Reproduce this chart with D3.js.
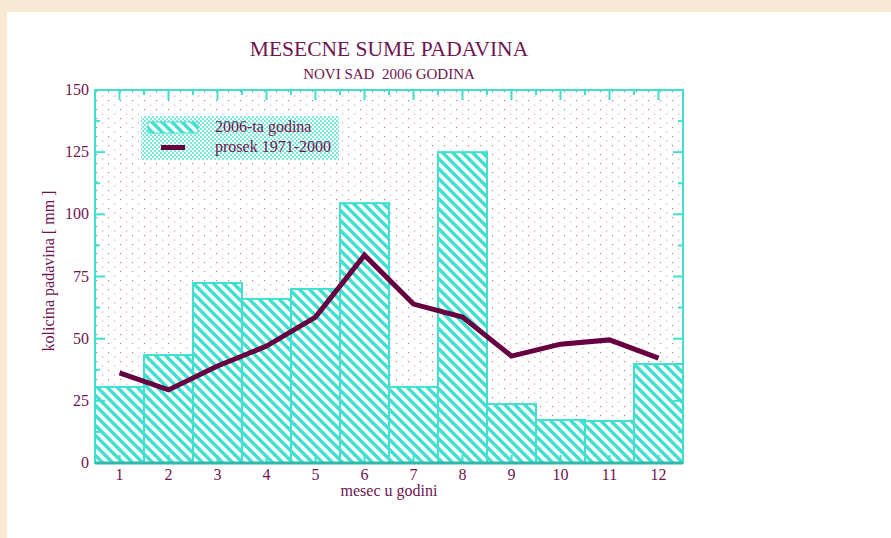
<!DOCTYPE html>
<html>
<head>
<meta charset="utf-8">
<script src="https://cdn.jsdelivr.net/npm/d3@7/dist/d3.min.js"></script>
<style>
body { margin: 0; background: #f9ead6; }
svg { display: block; }
</style>
</head>
<body>
<svg width="891" height="538"></svg>
<script>
const months = ["1","2","3","4","5","6","7","8","9","10","11","12"];
const rain2006 = [30.6, 43.4, 72.4, 66, 70, 104.5, 30.6, 125, 23.7, 17.3, 16.9, 39.8];
const avg7100 = [36.2, 29.4, 39, 47, 58.7, 83.6, 63.9, 58.7, 43, 47.8, 49.5, 42.2];
const yTicks = [0, 25, 50, 75, 100, 125, 150];

const svg = d3.select("svg");
const textColor = "#6e1450";
const cyan = "#40e0d0";
const lineColor = "#660040";
const font = "'Liberation Serif', 'DejaVu Serif', serif";

const pLeft = 95, pRight = 683, pTop = 90, pBottom = 463;

// white page
svg.append("rect").attr("x", 7).attr("y", 12).attr("width", 884).attr("height", 526).attr("fill", "white");

let defs = svg.append("defs");

let dots = defs.append("pattern").attr("id", "dots").attr("patternUnits", "userSpaceOnUse")
    .attr("x", pLeft).attr("y", pTop).attr("width", 12).attr("height", 9);
dots.append("rect").attr("x", 1).attr("y", 1).attr("width", 1.2).attr("height", 1.2).attr("fill", "#c0808c");
dots.append("rect").attr("x", 7).attr("y", 5.5).attr("width", 1.2).attr("height", 1.2).attr("fill", "#d4a8b0");

let hatch = defs.append("pattern").attr("id", "hatch").attr("patternUnits", "userSpaceOnUse")
    .attr("width", 10).attr("height", 10);
hatch.append("rect").attr("width", 10).attr("height", 10).attr("fill", "white");
hatch.append("path").attr("d", "M0,0 L10,10 M-5,5 L5,15 M5,-5 L15,5")
    .attr("stroke", cyan).attr("stroke-width", 3.4);

let cdots = defs.append("pattern").attr("id", "cdots").attr("patternUnits", "userSpaceOnUse")
    .attr("width", 4).attr("height", 4);
cdots.append("rect").attr("width", 4).attr("height", 4).attr("fill", "white");
cdots.append("rect").attr("x", 0).attr("y", 0).attr("width", 2).attr("height", 2).attr("fill", "#7ee8dc");
cdots.append("rect").attr("x", 2).attr("y", 2).attr("width", 2).attr("height", 2).attr("fill", "#7ee8dc");

let x = d3.scaleBand().domain(months).range([pLeft, pRight]).padding(0);
let y = d3.scaleLinear().domain([0, 150]).range([pBottom, pTop]);

svg.append("rect").attr("x", pLeft).attr("y", pTop).attr("width", pRight - pLeft).attr("height", pBottom - pTop)
    .attr("fill", "url(#dots)");

// bars
svg.selectAll(".bar")
    .data(rain2006)
    .enter()
    .append("rect")
    .attr("class", "bar")
    .attr("x", (d, i) => x(months[i]))
    .attr("y", d => y(d))
    .attr("width", x.bandwidth())
    .attr("height", d => y(0) - y(d))
    .attr("fill", "url(#hatch)")
    .attr("stroke", cyan)
    .attr("stroke-width", 2);

// ticks
function ticks(g, vals, pos, len, horiz, inward) {
    g.append("g").selectAll("line").data(vals).enter().append("line")
        .attr("x1", d => horiz ? pos(d) : inward)
        .attr("x2", d => horiz ? pos(d) : inward + len)
        .attr("y1", d => horiz ? inward : pos(d))
        .attr("y2", d => horiz ? inward + len : pos(d))
        .attr("stroke", cyan).attr("stroke-width", 2);
}
let tg = svg.append("g");
let minorY = d3.range(12.5, 150, 25);
ticks(tg, yTicks, y, 10, false, pLeft);
ticks(tg, yTicks, y, -10, false, pRight);
ticks(tg, minorY, y, 5, false, pLeft);
ticks(tg, minorY, y, -5, false, pRight);
let centers = months.map(m => x(m) + x.bandwidth() / 2);
let bounds = months.slice(1).map(m => x(m));
ticks(tg, centers, d => d, 10, true, pTop);
ticks(tg, bounds, d => d, 5, true, pTop);
ticks(tg, centers, d => d, -8, true, pBottom);
ticks(tg, bounds, d => d, -4, true, pBottom);

// frame
svg.append("rect").attr("x", pLeft).attr("y", pTop).attr("width", pRight - pLeft).attr("height", pBottom - pTop)
    .attr("fill", "none").attr("stroke", cyan).attr("stroke-width", 2);
svg.append("line").attr("x1", pLeft).attr("x2", pRight).attr("y1", pBottom).attr("y2", pBottom)
    .attr("stroke", "#30b8a8").attr("stroke-width", 3);

// line
let line = d3.line()
    .x((d, i) => x(months[i]) + x.bandwidth() / 2)
    .y(d => y(d));
svg.append("path").datum(avg7100).attr("d", line)
    .attr("fill", "none").attr("stroke", lineColor).attr("stroke-width", 5)
    .attr("stroke-linejoin", "miter");

// axis labels
svg.selectAll(".ylab").data(yTicks).enter().append("text")
    .attr("x", 89).attr("y", d => y(d) + 5)
    .attr("text-anchor", "end")
    .attr("font-family", font).attr("font-size", 16).attr("fill", textColor)
    .text(d => d);

svg.selectAll(".xlab").data(months).enter().append("text")
    .attr("x", d => x(d) + x.bandwidth() / 2).attr("y", 480)
    .attr("text-anchor", "middle")
    .attr("font-family", font).attr("font-size", 16).attr("fill", textColor)
    .text(d => d);

svg.append("text").attr("x", 389).attr("y", 496).attr("text-anchor", "middle")
    .attr("font-family", font).attr("font-size", 16).attr("fill", textColor)
    .text("mesec u godini");

svg.append("text").attr("transform", "translate(54,271) rotate(-90)").attr("text-anchor", "middle")
    .attr("font-family", font).attr("font-size", 16).attr("fill", textColor)
    .text("kolicina padavina [ mm ]");

svg.append("text").attr("x", 389).attr("y", 56).attr("text-anchor", "middle")
    .attr("font-family", font).attr("font-size", 21.5).attr("fill", textColor)
    .text("MESECNE SUME PADAVINA");
svg.append("text").attr("x", 389).attr("y", 79).attr("text-anchor", "middle")
    .attr("font-family", font).attr("font-size", 15).attr("fill", textColor)
    .style("white-space", "pre")
    .text("NOVI SAD  2006 GODINA");

// legend
let lg = svg.append("g");
lg.append("rect").attr("x", 141).attr("y", 116).attr("width", 198).attr("height", 44).attr("fill", "url(#cdots)");
lg.append("rect").attr("x", 148).attr("y", 122).attr("width", 50).attr("height", 11)
    .attr("fill", "url(#hatch)").attr("stroke", cyan).attr("stroke-width", 1);
lg.append("line").attr("x1", 161).attr("x2", 185).attr("y1", 147.5).attr("y2", 147.5)
    .attr("stroke", lineColor).attr("stroke-width", 5);
lg.append("text").attr("x", 215).attr("y", 132).attr("font-family", font).attr("font-size", 16)
    .attr("fill", textColor).text("2006-ta godina");
lg.append("text").attr("x", 215).attr("y", 152).attr("font-family", font).attr("font-size", 16)
    .attr("fill", textColor).text("prosek 1971-2000");
</script>
</body>
</html>
